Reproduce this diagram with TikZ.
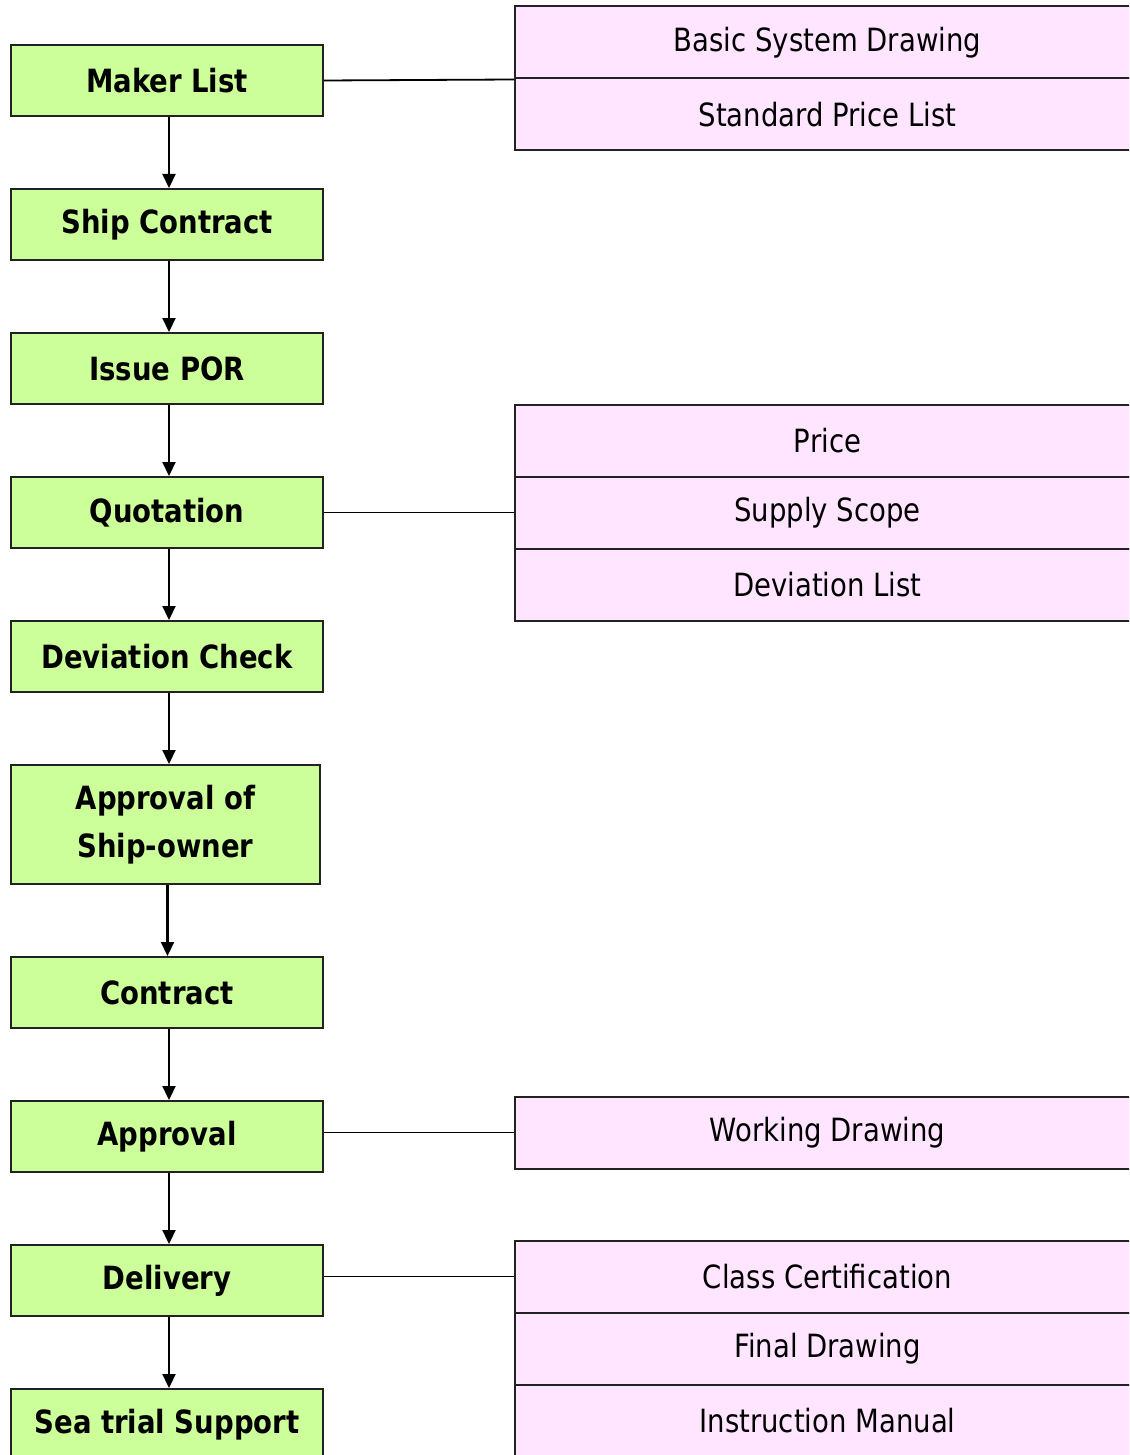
\documentclass[tikz,border=0pt]{standalone}
\usepackage{fontspec}
\setmainfont{DejaVu Sans}[FakeStretch=0.86]
\usetikzlibrary{arrows.meta}
\definecolor{gfill}{HTML}{CCFF99}
\definecolor{pfill}{HTML}{FFE5FF}
\definecolor{edge}{HTML}{222222}
\tikzset{
  gbox/.style={draw=edge, fill=gfill, line width=2pt, inner sep=0pt,
    minimum width=312pt, minimum height=71pt, align=center,
    font=\fontsize{32}{48}\selectfont\bfseries},
  pbox/.style={draw=edge, fill=pfill, line width=2pt, inner sep=0pt,
    minimum width=625pt, minimum height=72pt,
    font=\fontsize{32}{38}\selectfont},
  flow/.style={draw=black, line width=2.2pt, -{Triangle[width=13pt,length=14pt]}},
  link/.style={draw=black, line width=1.8pt}
}
\begin{document}
\begin{tikzpicture}[x=1pt,y=-1pt]
\useasboundingbox (0,0) rectangle (1129,1455);
\clip (0,0) rectangle (1129,1455);
\fill[white] (0,0) rectangle (1129,1455);
% flow boxes
\node[gbox] (maker) at (167,80.5) {Maker List};
\node[gbox] (ship) at (167,224.5) {Ship Contract};
\node[gbox] (por) at (167,368.5) {Issue POR};
\node[gbox] (quot) at (167,512.5) {Quotation};
\node[gbox] (dev) at (167,656.5) {Deviation Check};
\node[gbox, minimum width=309pt, minimum height=119pt] (own) at (165.5,824.5) {Approval of\\Ship-owner};
\node[gbox] (con) at (167,992.5) {Contract};
\node[gbox] (appr) at (167,1136.5) {Approval};
\node[gbox] (del) at (167,1280.5) {Delivery};
\node[gbox] (sea) at (167,1424.5) {Sea trial Support};
% side boxes
\node[pbox] (bsd) at (827.5,42.5) {Basic System Drawing};
\node[pbox] (spl) at (827.5,114.5) {Standard Price List};
\node[pbox] (price) at (827.5,440.5) {Price};
\node[pbox] (scope) at (827.5,512.5) {Supply Scope};
\node[pbox] (dlist) at (827.5,584.5) {Deviation List};
\node[pbox] (wd) at (827.5,1132.5) {Working Drawing};
\node[pbox] (cc) at (827.5,1276.5) {Class Certification};
\node[pbox] (fd) at (827.5,1348.5) {Final Drawing};
\node[pbox] (im) at (827.5,1420.5) {Instruction Manual};
% flow arrows
\foreach \a/\b in {maker/ship,ship/por,por/quot,quot/dev,dev/own,own/con,con/appr,appr/del,del/sea}
  \draw[flow] ([xshift=2pt]\a.south) -- ([xshift=2pt]\a.south |- \b.north);
% links
\draw[link] (maker.east) -- (bsd.south west);
\draw[link] (quot.east) -- (scope.west);
\draw[link] (appr.east |- wd.west) -- (wd.west);
\draw[link] (del.east |- cc.west) -- (cc.west);
\end{tikzpicture}
\end{document}
